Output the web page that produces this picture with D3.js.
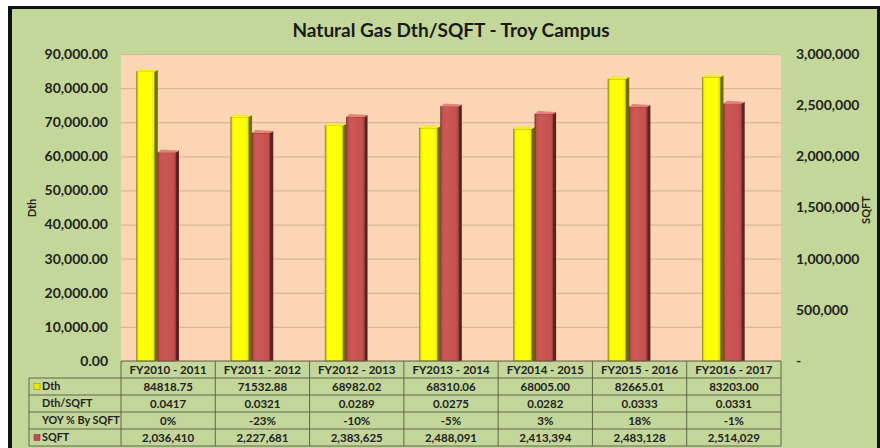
<!DOCTYPE html>
<html>
<head>
<meta charset="utf-8">
<script src="https://cdn.jsdelivr.net/npm/d3@7"></script>
<style>
  body { margin: 0; background: #fff; }
  svg { display: block; font-family: Lato, "Open Sans", sans-serif; }
</style>
</head>
<body>
<svg id="chart" width="880" height="448"></svg>
<script>
// data
var categories = ["FY2010 - 2011", "FY2011 - 2012", "FY2012 - 2013", "FY2013 - 2014", "FY2014 - 2015", "FY2015 - 2016", "FY2016 - 2017"];
var dth = [84818.75, 71532.88, 68982.02, 68310.06, 68005.00, 82665.01, 83203.00];
var dthPerSqft = [0.0417, 0.0321, 0.0289, 0.0275, 0.0282, 0.0333, 0.0331];
var yoy = [0, -23, -10, -5, 3, 18, -1];
var sqft = [2036410, 2227681, 2383625, 2488091, 2413394, 2483128, 2514029];
var leftTicks = [0, 10000, 20000, 30000, 40000, 50000, 60000, 70000, 80000, 90000];
var rightTicks = [0, 500000, 1000000, 1500000, 2000000, 2500000, 3000000];
var rowNames = ["Dth", "Dth/SQFT", "YOY % By SQFT", "SQFT"];

var svg = d3.select("#chart");

// frame
svg.append("rect").attr("x", 8).attr("y", 6).attr("width", 872).attr("height", 442).attr("fill", "#111");
svg.append("rect").attr("x", 12).attr("y", 9).attr("width", 865).attr("height", 439).attr("fill", "#c4d79b");

var plotL = 121, plotR = 781, plotT = 54, plotB = 361;

var x = d3.scaleBand().domain(categories).range([plotL, plotR]);
var yL = d3.scaleLinear().domain([0, 90000]).range([plotB, plotT]);
var yR = d3.scaleLinear().domain([0, 3000000]).range([plotB, plotT]);

// plot area
svg.append("rect").attr("x", plotL).attr("y", plotT).attr("width", plotR - plotL).attr("height", plotB - plotT)
  .attr("fill", "#fcd5b5");

svg.append("g").selectAll("line").data(leftTicks).enter().append("line")
  .attr("x1", plotL).attr("x2", plotR)
  .attr("y1", function(d){ return yL(d) + 0.5; }).attr("y2", function(d){ return yL(d) + 0.5; })
  .attr("stroke", "#d9b697").attr("stroke-width", 1.2);

// gradients for the 3d-ish bars
var defs = svg.append("defs");
function grad(id, stops) {
  var g = defs.append("linearGradient").attr("id", id).attr("x1", "0").attr("x2", "1").attr("y1", "0").attr("y2", "0");
  stops.forEach(function(s){ g.append("stop").attr("offset", s[0]).attr("stop-color", s[1]); });
}
grad("yel", [[0, "#9a9a10"], [0.1, "#f4f400"], [0.2, "#ffff00"], [0.8, "#ffff10"], [1, "#e8e800"]]);
grad("red", [[0, "#8c3432"], [0.1, "#c4524f"], [0.3, "#cd5856"], [0.85, "#c6524f"], [1, "#b04744"]]);

var bw = x.bandwidth();
var barW = bw * 0.19, sideW = bw * 0.035, depth = 3;

function drawBars(vals, scale, off, fill, side, top, edge) {
  var g = svg.append("g");
  vals.forEach(function(v, i) {
    var x0 = x(categories[i]) + bw * off;
    var yt = scale(v);
    g.append("polygon")
      .attr("points", [[x0 + barW, yt], [x0 + barW + sideW, yt - depth + 1], [x0 + barW + sideW, plotB], [x0 + barW, plotB]].join(" "))
      .attr("fill", side);
    g.append("rect").attr("x", x0).attr("y", yt).attr("width", barW).attr("height", plotB - yt)
      .attr("fill", fill).attr("stroke", edge).attr("stroke-width", 0.6);
    g.append("polygon")
      .attr("points", [[x0, yt], [x0 + sideW, yt - depth], [x0 + barW + sideW, yt - depth + 1], [x0 + barW, yt]].join(" "))
      .attr("fill", top);
  });
}
drawBars(dth, yL, 0.165, "url(#yel)", "#6e6a08", "#f0ee30", "#8a8800");
drawBars(sqft, yR, 0.165 + 0.19 + 0.035, "url(#red)", "#5e2220", "#e8807c", "#7a2e2c");

// axes labels
var fmtL = d3.format(",.2f");
svg.append("g").selectAll("text").data(leftTicks).enter().append("text")
  .attr("x", 108).attr("y", function(d){ return yL(d); }).attr("dy", "0.35em")
  .attr("text-anchor", "end").attr("font-size", 14).attr("font-weight", "bold").attr("fill", "#222")
  .text(function(d){ return fmtL(d); });

var fmtR = d3.format(",");
svg.append("g").selectAll("text").data(rightTicks).enter().append("text")
  .attr("x", 796).attr("y", function(d){ return yR(d); }).attr("dy", "0.35em")
  .attr("font-size", 14).attr("font-weight", "bold").attr("fill", "#222")
  .text(function(d){ return d === 0 ? "-" : fmtR(d); });

svg.append("text").attr("transform", "translate(36,208) rotate(-90)")
  .attr("text-anchor", "middle").attr("font-size", 11).attr("font-weight", "bold").attr("fill", "#222").text("Dth");
svg.append("text").attr("transform", "translate(870,210) rotate(-90)")
  .attr("text-anchor", "middle").attr("font-size", 11).attr("font-weight", "bold").attr("fill", "#222").text("SQFT");

svg.append("text").attr("x", 451).attr("y", 37).attr("text-anchor", "middle")
  .attr("font-size", 19).attr("font-weight", "bold").attr("fill", "#1a1a1a")
  .text("Natural Gas Dth/SQFT - Troy Campus");

// data table
var rowY = d3.scaleBand().domain(["head"].concat(rowNames)).range([plotB, 446]);
var rh = rowY.bandwidth();
var tbl = svg.append("g");
var lineC = "#5f6648";

var cellText = {
  "Dth": dth.map(function(d){ return d3.format(".2f")(d); }),
  "Dth/SQFT": dthPerSqft.map(function(d){ return d3.format(".4f")(d); }),
  "YOY % By SQFT": yoy.map(function(d){ return d + "%"; }),
  "SQFT": sqft.map(function(d){ return fmtR(d); })
};

// grid lines of table
tbl.append("line").attr("x1", 29).attr("x2", plotR).attr("y1", rowY("Dth")).attr("y2", rowY("Dth")).attr("stroke", lineC);
rowNames.forEach(function(r) {
  tbl.append("line").attr("x1", 29).attr("x2", plotR).attr("y1", rowY(r) + rh).attr("y2", rowY(r) + rh).attr("stroke", lineC);
});
tbl.append("line").attr("x1", plotL).attr("x2", plotR).attr("y1", plotB).attr("y2", plotB).attr("stroke", lineC);
tbl.append("line").attr("x1", 29).attr("x2", 29).attr("y1", rowY("Dth")).attr("y2", 446).attr("stroke", lineC);
categories.concat([null]).forEach(function(c) {
  var xx = c ? x(c) : plotR;
  tbl.append("line").attr("x1", xx).attr("x2", xx).attr("y1", plotB).attr("y2", 446).attr("stroke", lineC);
});

tbl.selectAll("text.head").data(categories).enter().append("text")
  .attr("x", function(d){ return x(d) + bw / 2; }).attr("y", rowY("head") + rh / 2).attr("dy", "0.36em")
  .attr("text-anchor", "middle").attr("font-size", 11.5).attr("font-weight", "bold").attr("fill", "#222")
  .text(function(d){ return d; });

rowNames.forEach(function(r) {
  tbl.append("text").attr("x", 42).attr("y", rowY(r) + rh / 2).attr("dy", "0.36em")
    .attr("font-size", 10.8).attr("font-weight", "bold").attr("fill", "#222").text(r);
  tbl.selectAll(null).data(cellText[r]).enter().append("text")
    .attr("x", function(d, i){ return x(categories[i]) + bw / 2; }).attr("y", rowY(r) + rh / 2).attr("dy", "0.36em")
    .attr("text-anchor", "middle").attr("font-size", 11.5).attr("font-weight", "bold").attr("fill", "#222")
    .text(function(d){ return d; });
});

// legend keys in the table
tbl.append("rect").attr("x", 34).attr("y", rowY("Dth") + rh / 2 - 3).attr("width", 6).attr("height", 6).attr("fill", "#e8e800").attr("stroke", "#8a8800").attr("stroke-width", 0.5);
tbl.append("rect").attr("x", 34).attr("y", rowY("SQFT") + rh / 2 - 3).attr("width", 6).attr("height", 6).attr("fill", "#c0504d").attr("stroke", "#7a2e2c").attr("stroke-width", 0.5);
</script>
</body>
</html>
